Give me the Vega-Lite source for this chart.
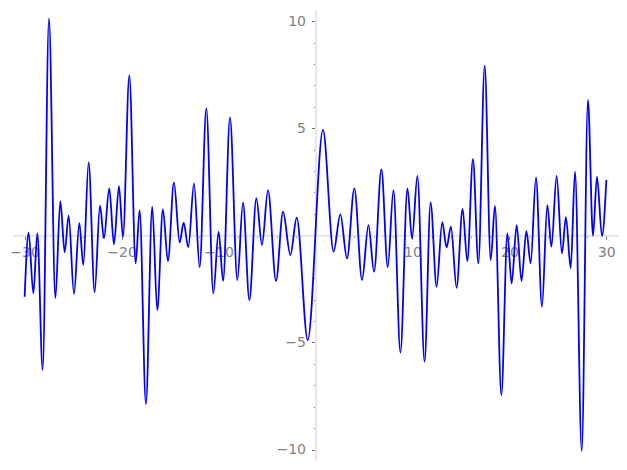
{
  "$schema": "https://vega.github.io/schema/vega-lite/v6.json",
  "width": 605,
  "height": 450,
  "autosize": {"type": "none"},
  "padding": {"left": 13, "top": 10, "right": 9, "bottom": 10},
  "background": "white",
  "view": {"stroke": null},
  "data": {"values": [
    {"x": -30.0, "y": -2.87}, {"x": -29.59, "y": 0.12}, {"x": -29.1, "y": -2.71}, {"x": -28.69, "y": 0.09},
    {"x": -28.14, "y": -6.29}, {"x": -27.49, "y": 10.13}, {"x": -26.83, "y": -2.94}, {"x": -26.32, "y": 1.6},
    {"x": -25.87, "y": -0.79}, {"x": -25.46, "y": 0.92}, {"x": -24.91, "y": -2.74}, {"x": -24.36, "y": 0.57},
    {"x": -23.95, "y": -1.39}, {"x": -23.4, "y": 3.41}, {"x": -22.78, "y": -2.66}, {"x": -22.23, "y": 1.38},
    {"x": -21.82, "y": -0.14}, {"x": -21.27, "y": 2.19}, {"x": -20.79, "y": -0.42}, {"x": -20.27, "y": 2.3},
    {"x": -19.86, "y": -0.07}, {"x": -19.2, "y": 7.48}, {"x": -18.55, "y": -1.31}, {"x": -18.14, "y": 1.18},
    {"x": -17.49, "y": -7.88}, {"x": -16.84, "y": 1.34}, {"x": -16.32, "y": -3.49}, {"x": -15.74, "y": 1.21},
    {"x": -15.22, "y": -1.2}, {"x": -14.6, "y": 2.47}, {"x": -14.01, "y": -0.33}, {"x": -13.6, "y": 0.59},
    {"x": -13.12, "y": -0.56}, {"x": -12.53, "y": 2.43}, {"x": -11.95, "y": -1.49}, {"x": -11.26, "y": 5.93},
    {"x": -10.54, "y": -2.71}, {"x": -9.99, "y": 0.17}, {"x": -9.53, "y": -2.13}, {"x": -8.82, "y": 5.51},
    {"x": -8.06, "y": -2.09}, {"x": -7.48, "y": 1.52}, {"x": -6.82, "y": -3.02}, {"x": -6.1, "y": 1.73},
    {"x": -5.52, "y": -0.45}, {"x": -4.9, "y": 2.11}, {"x": -4.07, "y": -2.13}, {"x": -3.35, "y": 1.1},
    {"x": -2.59, "y": -0.92}, {"x": -1.94, "y": 0.82}, {"x": -0.8, "y": -4.89}, {"x": 0.77, "y": 4.92},
    {"x": 1.87, "y": -0.76}, {"x": 2.56, "y": 0.98}, {"x": 3.25, "y": -1.08}, {"x": 4.01, "y": 2.19},
    {"x": 4.8, "y": -2.09}, {"x": 5.46, "y": 0.48}, {"x": 6.04, "y": -1.7}, {"x": 6.8, "y": 3.08},
    {"x": 7.45, "y": -1.49}, {"x": 8.04, "y": 2.11}, {"x": 8.76, "y": -5.48}, {"x": 9.48, "y": 2.19},
    {"x": 9.96, "y": -0.14}, {"x": 10.51, "y": 2.77}, {"x": 11.25, "y": -5.9}, {"x": 11.87, "y": 1.54},
    {"x": 12.49, "y": -2.4}, {"x": 13.07, "y": 0.61}, {"x": 13.52, "y": -0.56}, {"x": 13.97, "y": 0.4},
    {"x": 14.55, "y": -2.45}, {"x": 15.17, "y": 1.23}, {"x": 15.66, "y": -1.2}, {"x": 16.24, "y": 3.56},
    {"x": 16.8, "y": -1.31}, {"x": 17.45, "y": 7.92}, {"x": 18.07, "y": -1.15}, {"x": 18.51, "y": 1.37},
    {"x": 19.17, "y": -7.46}, {"x": 19.79, "y": 0.09}, {"x": 20.23, "y": -2.24}, {"x": 20.75, "y": 0.48},
    {"x": 21.25, "y": -2.13}, {"x": 21.75, "y": 0.2}, {"x": 22.19, "y": -1.31}, {"x": 22.74, "y": 2.71},
    {"x": 23.36, "y": -3.33}, {"x": 23.91, "y": 1.41}, {"x": 24.33, "y": -0.53}, {"x": 24.87, "y": 2.77},
    {"x": 25.42, "y": -0.84}, {"x": 25.83, "y": 0.85}, {"x": 26.32, "y": -1.54}, {"x": 26.77, "y": 2.97},
    {"x": 27.46, "y": -10.07}, {"x": 28.1, "y": 6.32}, {"x": 28.62, "y": -0.02}, {"x": 29.03, "y": 2.74},
    {"x": 29.55, "y": -0.03}, {"x": 30.0, "y": 2.58}
  ]},
  "mark": {"type": "line", "color": "#0000ff", "strokeWidth": 1.8, "interpolate": "monotone", "clip": false},
  "encoding": {
    "x": {
      "field": "x", "type": "quantitative",
      "scale": {"domain": [-31.2, 31.2], "nice": false, "zero": false},
      "axis": {
        "title": null, "orient": "bottom", "offset": -224.7, "zindex": 0, "grid": false,
        "values": [-30, -28, -26, -24, -22, -20, -18, -16, -14, -12, -10, -8, -6, -4, -2, 2, 4, 6, 8, 10, 12, 14, 16, 18, 20, 22, 24, 26, 28, 30],
        "labelExpr": "datum.value % 10 === 0 ? replace(datum.label, '-', '\u2212') : ''",
        "labelFont": "DejaVu Sans", "labelFontSize": 14, "labelColor": "#808080",
        "labelPadding": 6, "labelFlush": false, "labelOverlap": false,
        "tickSize": {"condition": {"test": "datum.value % 10 === 0", "value": 4}, "value": 2},
        "tickColor": "#707070", "tickWidth": 1,
        "domainColor": "#e6e6e6", "domainWidth": 2
      }
    },
    "y": {
      "field": "y", "type": "quantitative",
      "scale": {"domain": [-10.49, 10.52], "nice": false, "zero": false},
      "axis": {
        "title": null, "orient": "left", "offset": -302.5, "zindex": 0, "grid": false,
        "values": [-10, -9, -8, -7, -6, -5, -4, -3, -2, -1, 1, 2, 3, 4, 5, 6, 7, 8, 9, 10],
        "labelExpr": "datum.value % 5 === 0 ? replace(datum.label, '-', '\u2212') : ''",
        "labelFont": "DejaVu Sans", "labelFontSize": 14, "labelColor": "#808080",
        "labelPadding": 6, "labelFlush": false, "labelOverlap": false,
        "tickSize": {"condition": {"test": "datum.value % 5 === 0", "value": 4}, "value": 2},
        "tickColor": "#707070", "tickWidth": 1,
        "domainColor": "#e6e6e6", "domainWidth": 2
      }
    }
  }
}
